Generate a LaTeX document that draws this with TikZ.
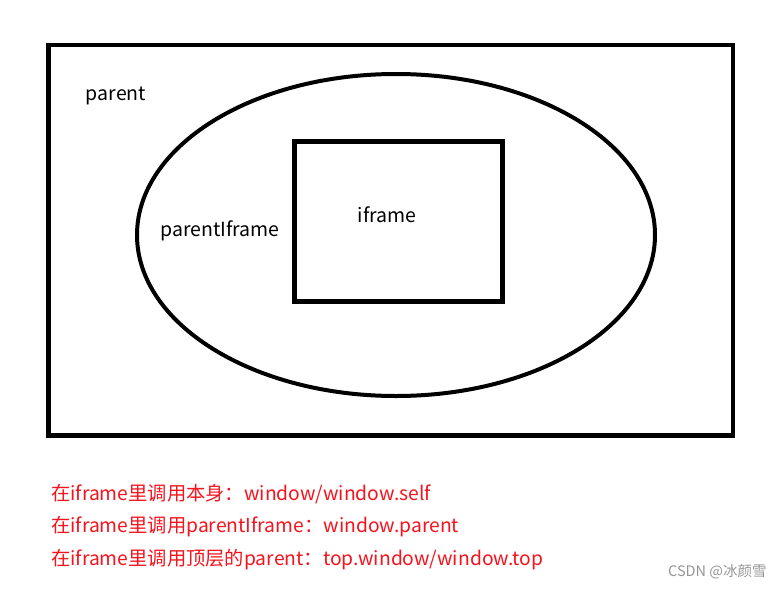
\documentclass[tikz,border=0pt]{standalone}
\usepackage{fontspec}
\setmainfont{Noto Sans CJK SC}
\usetikzlibrary{shapes.geometric}
\definecolor{notered}{RGB}{245,20,30}
\definecolor{markgray}{RGB}{150,150,150}
\begin{document}
\begin{tikzpicture}[x=1pt,y=-1pt,
  frame/.style={draw=black,line width=4.5pt},
  oval/.style={draw=black,line width=4pt},
  label/.style={font=\fontsize{19.5}{22}\selectfont,inner sep=0pt},
  note/.style={font=\fontsize{19.3}{22}\selectfont,text=notered,inner sep=0pt,anchor=west},
  wmark/.style={font=\fontsize{14.5}{16}\selectfont,text=markgray,inner sep=0pt,anchor=west}]
\useasboundingbox[fill=white] (0,0) rectangle (784,589);
\draw[frame] (48.5,45) rectangle (733,435.5);
\draw[oval] (396,235) ellipse [x radius=259,y radius=161];
\draw[frame] (294.5,141.7) rectangle (502.5,301.7);
\node[label] (parent) at (116,96) {parent};
\node[label] (pif) at (220,231) {parentIframe};
\node[label] (ifr) at (387,215) {iframe};
\node[note] (n1) at (51,494) {在iframe里调用本身：window/window.self};
\node[note] (n2) at (51,527) {在iframe里调用parentIframe：window.parent};
\node[note] (n3) at (51,560) {在iframe里调用顶层的parent：top.window/window.top};
\node[wmark] (wm) at (668,572) {CSDN @冰颜雪};
\end{tikzpicture}
\end{document}
